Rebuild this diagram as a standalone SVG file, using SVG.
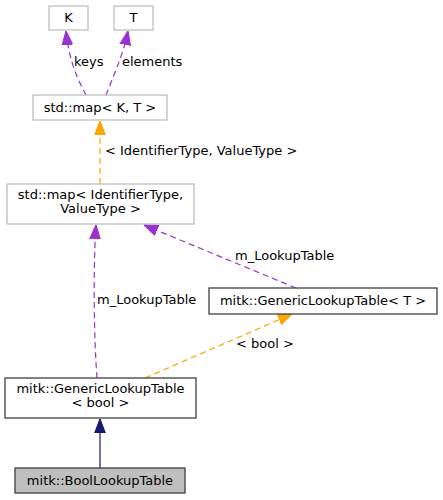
<svg xmlns="http://www.w3.org/2000/svg" width="443" height="500" viewBox="0 0 443 500">
<style>
text{font-family:"DejaVu Sans","Liberation Sans",sans-serif;font-size:13px;fill:#000;text-anchor:middle}
.lbl{text-anchor:start}
.ext{fill:#fff;stroke:#bfbfbf;stroke-width:1.3}
.cls{fill:#fff;stroke:#404040;stroke-width:1.3}
.cur{fill:#bfbfbf;stroke:#404040;stroke-width:1.3}
.p{fill:none;stroke:#9a32cd;stroke-width:1.2;stroke-dasharray:6,4}
.o{fill:none;stroke:#ffa500;stroke-width:1.2;stroke-dasharray:6,4}
.n{fill:none;stroke:#191970;stroke-width:1.2}
</style>
<defs>
<marker id="ap" markerUnits="userSpaceOnUse" markerWidth="14" markerHeight="12" refX="12" refY="5" orient="auto" viewBox="0 0 12 10"><path d="M0,0.5 L12,5 L0,9.5 Z" fill="#9a32cd" stroke="#9a32cd"/></marker>
<marker id="ao" markerUnits="userSpaceOnUse" markerWidth="14" markerHeight="12" refX="12" refY="5" orient="auto" viewBox="0 0 12 10"><path d="M0,0.5 L12,5 L0,9.5 Z" fill="#ffa500" stroke="#ffa500"/></marker>
<marker id="an" markerUnits="userSpaceOnUse" markerWidth="14" markerHeight="12" refX="12" refY="5" orient="auto" viewBox="0 0 12 10"><path d="M0,0.5 L12,5 L0,9.5 Z" fill="#191970" stroke="#191970"/></marker>
</defs>
<g id="connectors">
<path class="p" d="M86,95 C79,82 69,62 66,31" marker-end="url(#ap)"/>
<text class="lbl" x="74" y="66">keys</text>
<path class="p" d="M106,95 C112,79 123,56 128,31" marker-end="url(#ap)"/>
<text class="lbl" x="122" y="66">elements</text>
<path class="o" d="M100,184 L100,121" marker-end="url(#ao)"/>
<text class="lbl" x="105" y="155">&lt; IdentifierType, ValueType &gt;</text>
<path class="p" d="M97,378 C94,340 93,270 96,225" marker-end="url(#ap)"/>
<text class="lbl" x="97" y="304">m_LookupTable</text>
<path class="p" d="M296,288 L144,225" marker-end="url(#ap)"/>
<text class="lbl" x="235" y="260">m_LookupTable</text>
<path class="o" d="M145,378 L292,314" marker-end="url(#ao)"/>
<text class="lbl" x="236" y="348">&lt; bool &gt;</text>
<path class="n" d="M100,468 L100,419" marker-end="url(#an)"/>
</g>
<g id="K"><rect class="ext" x="49" y="6" width="39" height="24"/><text x="68.5" y="22">K</text></g>
<g id="T"><rect class="ext" x="114" y="6" width="39" height="24"/><text x="133.5" y="22">T</text></g>
<g id="mapKT"><rect class="ext" x="33" y="95" width="134" height="25"/><text x="100" y="112">std::map&lt; K, T &gt;</text></g>
<g id="mapIV"><rect class="ext" x="7" y="184" width="187" height="40"/><text x="100.5" y="199">std::map&lt; IdentifierType,</text><text x="100.5" y="213">ValueType &gt;</text></g>
<g id="GLT_T"><rect class="cls" x="209" y="288" width="228" height="26"/><text x="323" y="305">mitk::GenericLookupTable&lt; T &gt;</text></g>
<g id="GLT_bool"><rect class="cls" x="5" y="378" width="191" height="40"/><text x="100.5" y="393">mitk::GenericLookupTable</text><text x="100.5" y="407">&lt; bool &gt;</text></g>
<g id="BoolLookupTable"><rect class="cur" x="15" y="468" width="170" height="25"/><text x="100" y="485">mitk::BoolLookupTable</text></g>
</svg>
